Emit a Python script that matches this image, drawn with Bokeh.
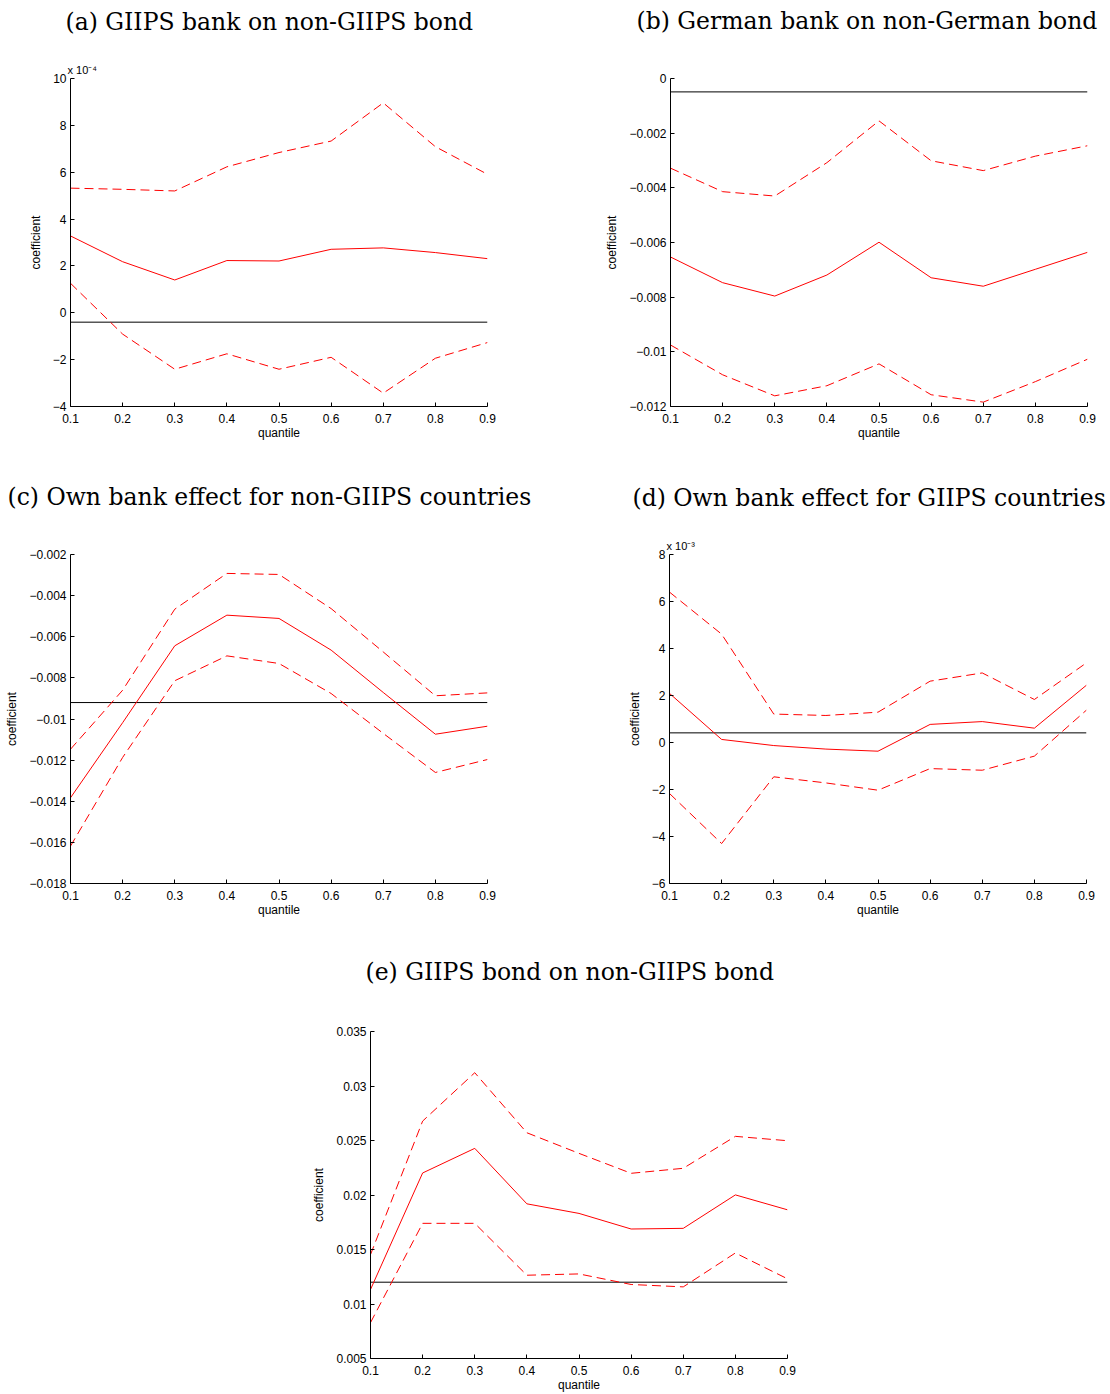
from bokeh.plotting import figure
from bokeh.models import Range1d, FixedTicker, CustomJSTickFormatter, Title
from bokeh.layouts import column, row
from bokeh.embed import file_html
from bokeh.resources import INLINE

# ---------------- data ----------------
quantiles = [0.1, 0.2, 0.3, 0.4, 0.5, 0.6, 0.7, 0.8, 0.9]

# (a) GIIPS bank on non-GIIPS bond  (values in units of 1e-4)
a_coef = [3.28, 2.18, 1.40, 2.23, 2.21, 2.71, 2.77, 2.57, 2.31]
a_upper = [5.32, 5.27, 5.20, 6.23, 6.84, 7.33, 8.96, 7.09, 5.91]
a_lower = [1.26, -0.91, -2.41, -1.75, -2.41, -1.90, -3.43, -1.94, -1.27]
a_ref = -0.40
a_yticks = [-4, -2, 0, 2, 4, 6, 8, 10]

# (b) German bank on non-German bond
b_coef = [-0.00653, -0.00747, -0.00796, -0.00719, -0.00599, -0.00729, -0.00760, -0.00698, -0.00636]
b_upper = [-0.00328, -0.00414, -0.00430, -0.00308, -0.00155, -0.00301, -0.00337, -0.00284, -0.00246]
b_lower = [-0.00975, -0.01084, -0.01161, -0.01124, -0.01044, -0.01157, -0.01184, -0.01109, -0.01027]
b_ref = -0.00049
b_yticks = [-0.012, -0.010, -0.008, -0.006, -0.004, -0.002, 0.0]

# (c) Own bank effect for non-GIIPS countries
c_coef = [-0.01383, -0.01018, -0.00644, -0.00495, -0.00511, -0.00665, -0.00871, -0.01074, -0.01035]
c_upper = [-0.01147, -0.00860, -0.00466, -0.00292, -0.00297, -0.00463, -0.00674, -0.00887, -0.00873]
c_lower = [-0.01618, -0.01187, -0.00814, -0.00693, -0.00730, -0.00876, -0.01070, -0.01260, -0.01197]
c_ref = -0.00920
c_yticks = [-0.018, -0.016, -0.014, -0.012, -0.010, -0.008, -0.006, -0.004, -0.002]

# (d) Own bank effect for GIIPS countries  (values in units of 1e-3)
d_coef = [2.09, 0.13, -0.13, -0.28, -0.37, 0.77, 0.89, 0.61, 2.44]
d_upper = [6.40, 4.61, 1.21, 1.15, 1.29, 2.61, 2.96, 1.83, 3.39]
d_lower = [-2.17, -4.30, -1.46, -1.72, -2.03, -1.11, -1.18, -0.58, 1.38]
d_ref = 0.41
d_yticks = [-6, -4, -2, 0, 2, 4, 6, 8]

# (e) GIIPS bond on non-GIIPS bond
e_coef = [0.01133, 0.02202, 0.02428, 0.01919, 0.01831, 0.01688, 0.01694, 0.02001, 0.01864]
e_upper = [0.01453, 0.02678, 0.03122, 0.02571, 0.02382, 0.02199, 0.02245, 0.02538, 0.02498]
e_lower = [0.00829, 0.01740, 0.01740, 0.01264, 0.01276, 0.01179, 0.01157, 0.01468, 0.01231]
e_ref = 0.01200
e_yticks = [0.005, 0.010, 0.015, 0.020, 0.025, 0.030, 0.035]

titles = [
    "(a) GIIPS bank on non-GIIPS bond",
    "(b) German bank on non-German bond",
    "(c) Own bank effect for non-GIIPS countries",
    "(d) Own bank effect for GIIPS countries",
    "(e) GIIPS bond on non-GIIPS bond",
]
exponents = ["x 10\u207b\u2074", "x 10\u207b\u00b3"]

FMT = CustomJSTickFormatter(code="""
var s = String(parseFloat(tick.toFixed(6)));
return s.replace('-', '\u2212');
""")

FRAME_W = 417


def spacer(px):
    # an (almost) empty title used as vertical space above the frame
    return Title(text=" ", text_font_size="1px", standoff=max(px - 3, 0))


def panel(title, coef, upper, lower, ref, yticks, left, right, top, frame_h, bottom,
          title_offset, title_pad, exponent=None):
    p = figure(width=left + FRAME_W + right, height=top + frame_h + bottom,
               output_backend="svg", toolbar_location=None,
               min_border_left=left, min_border_right=right,
               min_border_top=top, min_border_bottom=bottom,
               x_range=Range1d(quantiles[0], quantiles[-1]),
               y_range=Range1d(yticks[0], yticks[-1]))
    p.title = None
    p.outline_line_color = None
    p.xgrid.visible = False
    p.ygrid.visible = False
    p.background_fill_color = "white"
    p.border_fill_color = "white"

    # stack above the frame: exponent (nearest), spacer, main title (outermost)
    main_h = 2 + 28 + title_pad
    exp_h = 0
    if exponent is not None:
        exp_h = 21
        p.add_layout(Title(text=exponent, text_font="Liberation Sans",
                           text_font_size="11px", text_font_style="normal",
                           text_color="black", align="left", offset=-3,
                           vertical_align="bottom", standoff=6), "above")
    p.add_layout(spacer(top - main_h - exp_h - 1), "above")
    p.add_layout(Title(text=title, text_font="DejaVu Serif", text_font_size="23.5px",
                       text_font_style="normal", text_color="black", align="left",
                       offset=title_offset, vertical_align="top",
                       standoff=title_pad), "above")

    for ax in (p.xaxis[0], p.yaxis[0]):
        ax.formatter = FMT
        ax.major_tick_in = 4
        ax.major_tick_out = 0
        ax.minor_tick_in = 0
        ax.minor_tick_out = 0
        ax.axis_line_color = "black"
        ax.major_tick_line_color = "black"
        ax.major_label_text_font = "Liberation Sans"
        ax.major_label_text_font_size = "12px"
        ax.major_label_text_color = "black"
        ax.axis_label_text_font = "Liberation Sans"
        ax.axis_label_text_font_size = "12px"
        ax.axis_label_text_font_style = "normal"
        ax.axis_label_text_color = "black"
    p.xaxis[0].ticker = FixedTicker(ticks=quantiles)
    p.yaxis[0].ticker = FixedTicker(ticks=yticks)
    p.xaxis[0].axis_label = "quantile"
    p.yaxis[0].axis_label = "coefficient"
    p.xaxis[0].major_label_standoff = 7
    p.yaxis[0].major_label_standoff = 4
    p.xaxis[0].axis_label_standoff = 0
    p.yaxis[0].axis_label_standoff = 7

    p.line([quantiles[0], quantiles[-1]], [ref, ref], line_color="black", line_width=1)
    p.line(quantiles, upper, line_color="#ff0000", line_width=1, line_dash="9 5")
    p.line(quantiles, lower, line_color="#ff0000", line_width=1, line_dash="9 5")
    p.line(quantiles, coef, line_color="#ff0000", line_width=1)
    return p


pa = panel(titles[0], a_coef, a_upper, a_lower, a_ref, a_yticks,
           70, 68, 78, 328, 64, title_offset=-5, title_pad=10, exponent=exponents[0])
pb = panel(titles[1], b_coef, b_upper, b_lower, b_ref, b_yticks,
           115, 23, 78, 328, 64, title_offset=-34, title_pad=10)
pc = panel(titles[2], c_coef, c_upper, c_lower, c_ref, c_yticks,
           70, 68, 84, 329, 62, title_offset=-63, title_pad=22)
pd = panel(titles[3], d_coef, d_upper, d_lower, d_ref, d_yticks,
           114, 24, 84, 329, 62, title_offset=-37, title_pad=22, exponent=exponents[1])
pe = panel(titles[4], e_coef, e_upper, e_lower, e_ref, e_yticks,
           370, 323, 86, 328, 35, title_offset=-5, title_pad=22)

layout = column(row(pa, pb), row(pc, pd), pe, spacing=0)

open("out.html", "w").write(file_html(layout, INLINE))
